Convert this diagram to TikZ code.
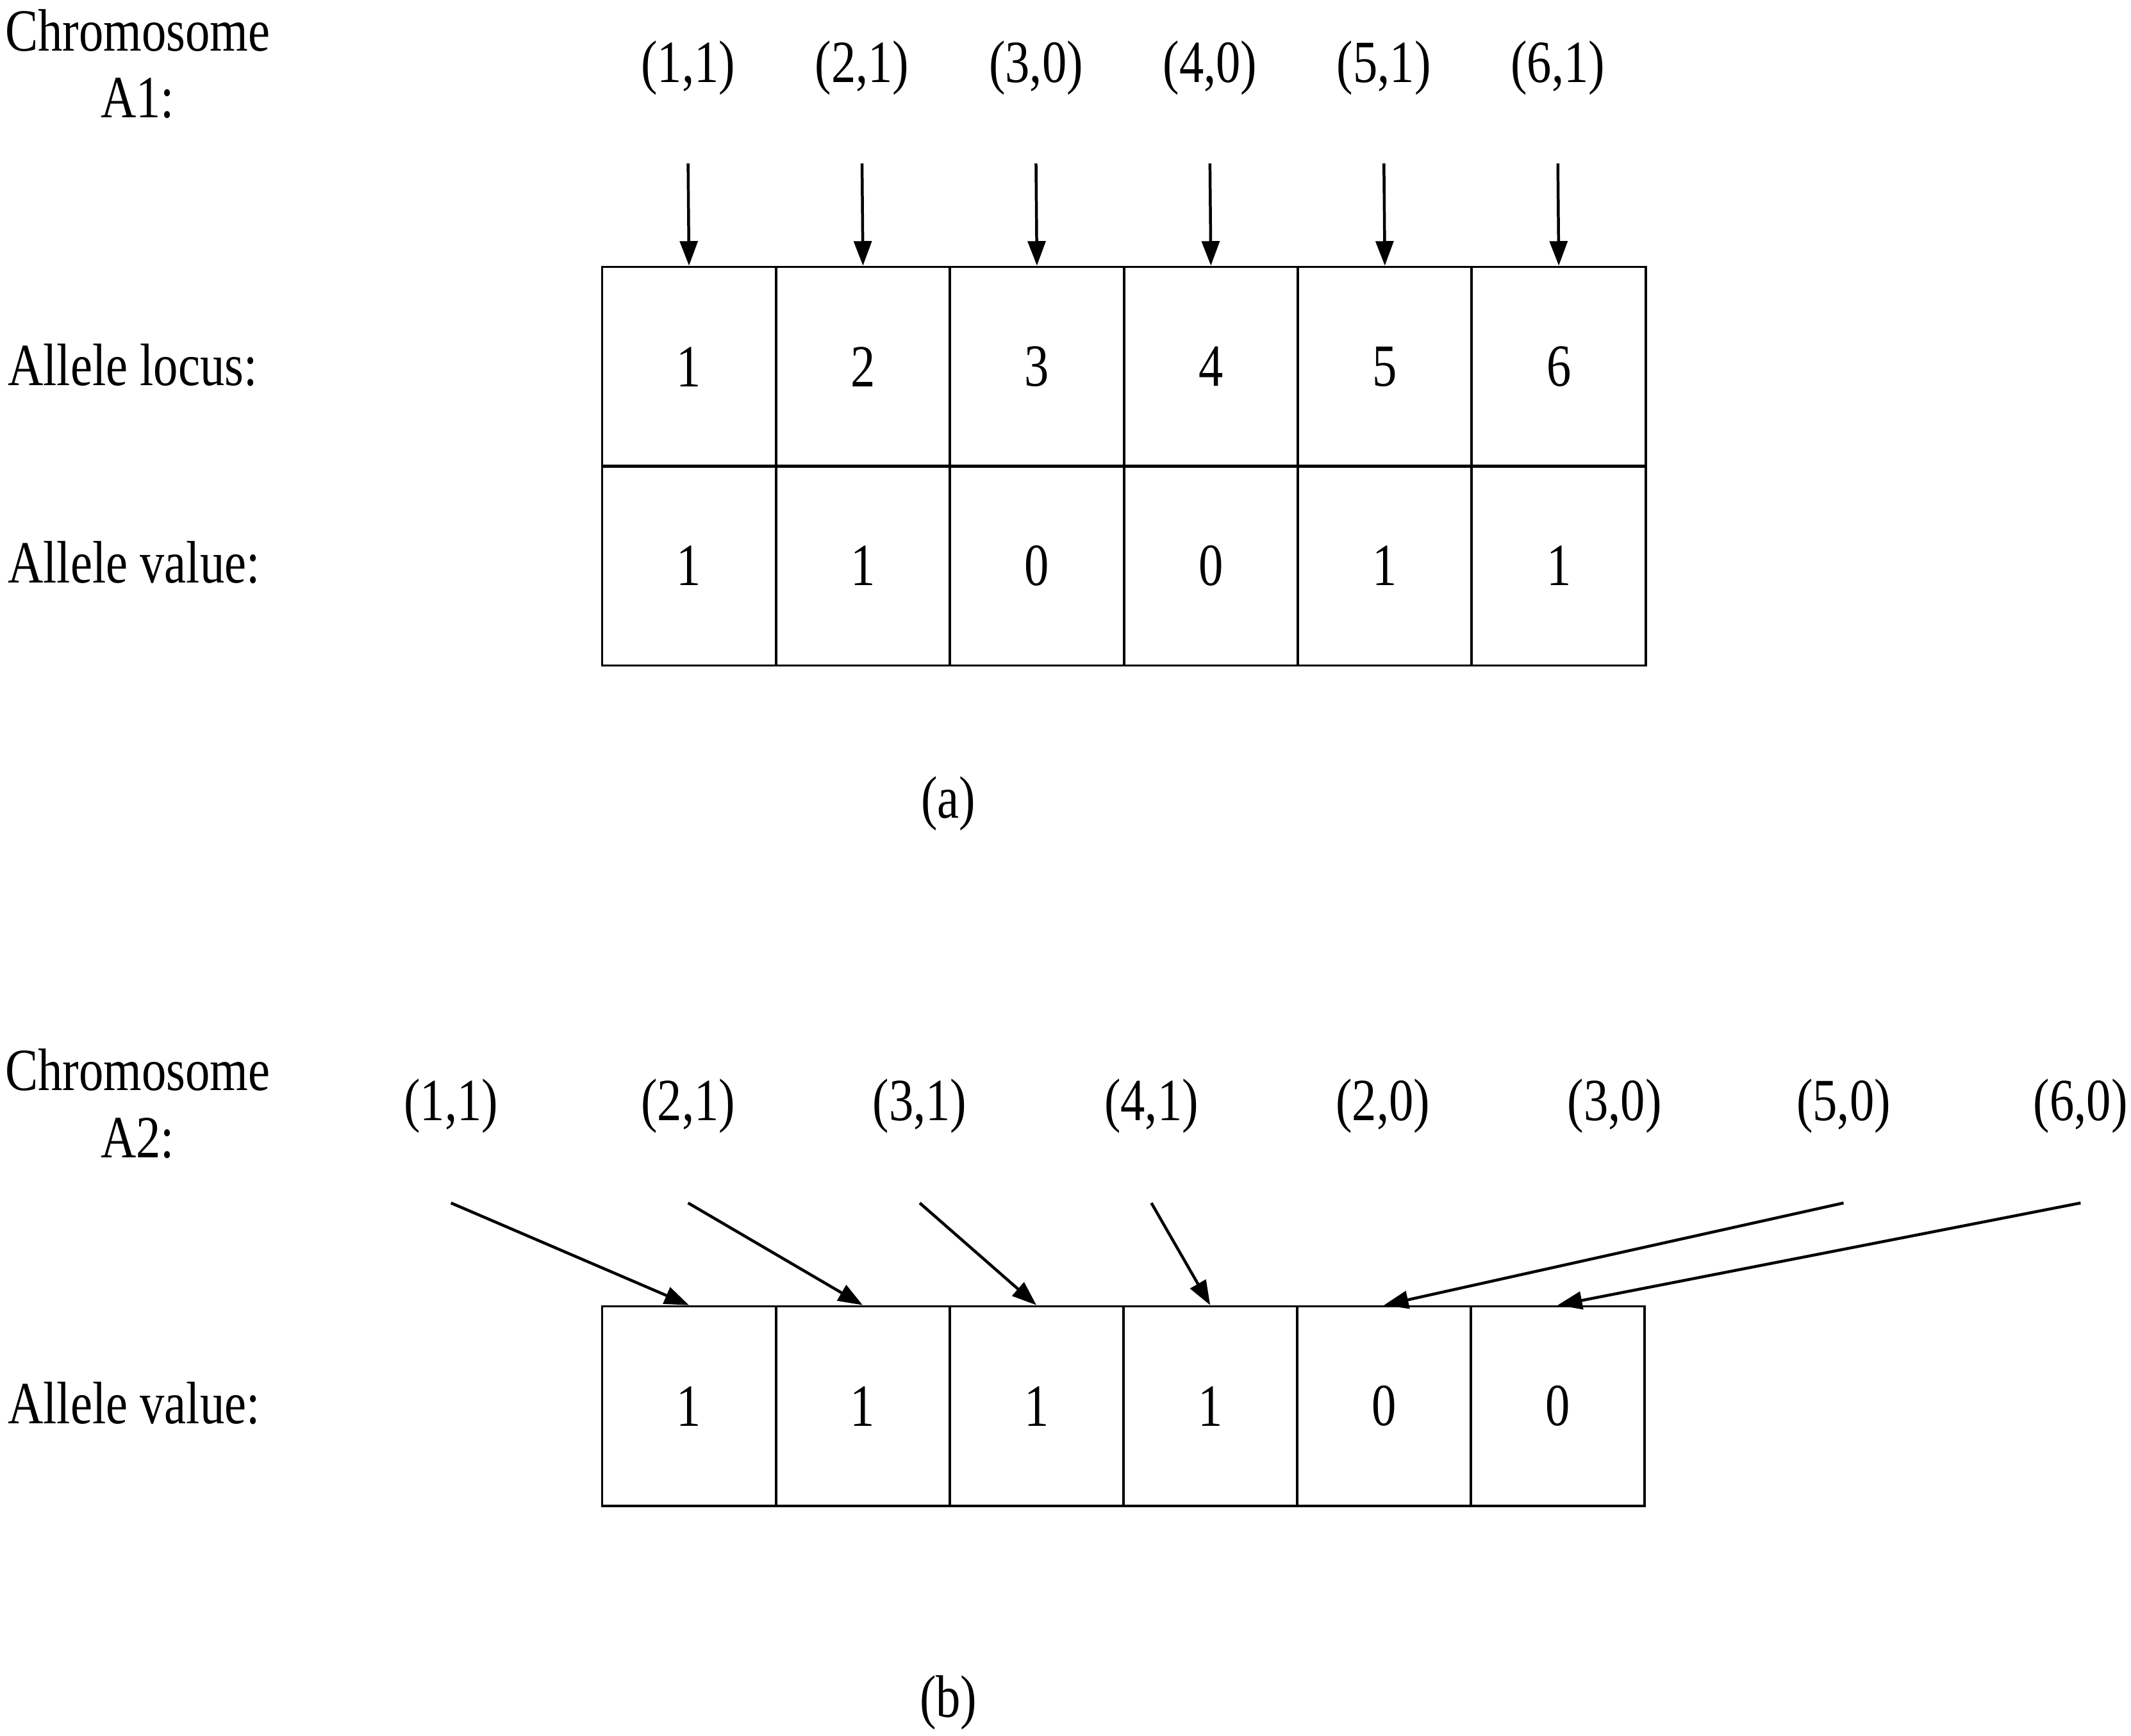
\documentclass[tikz,border=0pt]{standalone}
\usepackage{fontspec}
\setmainfont{Liberation Serif}[FakeStretch=0.82]
\usetikzlibrary{arrows.meta}
\begin{document}
\begin{tikzpicture}[x=0.01cm,y=-0.01cm,
  lbl/.style={font=\fontsize{12.5pt}{14pt}\selectfont,inner sep=0pt},
  cell/.style={draw,line width=0.5pt,minimum width=1.275cm,minimum height=1.465cm,anchor=north west,inner sep=0pt,font=\fontsize{12.5pt}{14pt}\selectfont},
  arr/.style={line width=0.6pt,-{Triangle[length=0.18cm,width=0.13cm]}}]
\useasboundingbox (0,0) rectangle (1564,1274);
% (a)
\node[lbl,align=center] (ca) at (101,47) {Chromosome\\A1:};
\node[lbl,anchor=west] (al) at (5,268) {Allele locus:};
\node[lbl,anchor=west] (av) at (5,413) {Allele value:};
\foreach \i/\l/\v/\t in {0/1/1/{(1,1)},1/2/1/{(2,1)},2/3/0/{(3,0)},3/4/0/{(4,0)},4/5/1/{(5,1)},5/6/1/{(6,1)}}{
  \node[cell] (L\i) at ({441+127.67*\i},195) {\l};
  \node[cell] (V\i) at ({441+127.67*\i},341) {\v};
  \node[lbl] (T\i) at ({505+127.67*\i},50) {\t};
  \coordinate (S\i) at ({505+127.67*\i},120);
  \draw[arr] (S\i) -- (L\i.north);
}
\node[lbl] (capa) at (696,590) {(a)};
% (b)
\node[lbl,align=center] (cb) at (101,810) {Chromosome\\A2:};
\node[lbl,anchor=west] (bv) at (5,1030) {Allele value:};
\foreach \i/\v in {0/1,1/1,2/1,3/1,4/0,5/0}{
  \node[cell] (B\i) at ({441+127.5*\i},958) {\v};
}
\foreach \j/\x/\t in {0/331/{(1,1)},1/505/{(2,1)},2/675/{(3,1)},3/845/{(4,1)},4/1015/{(2,0)},5/1185/{(3,0)},6/1353/{(5,0)},7/1527/{(6,0)}}{
  \node[lbl] (U\j) at (\x,812) {\t};
}
\foreach \j/\x/\c in {0/331/0,1/505/1,2/675/2,3/845/3,6/1353/4,7/1527/5}{
  \coordinate (P\j) at (\x,883);
  \draw[arr] (P\j) -- (B\c.north);
}
\node[lbl] (capb) at (696,1250) {(b)};
\end{tikzpicture}
\end{document}
